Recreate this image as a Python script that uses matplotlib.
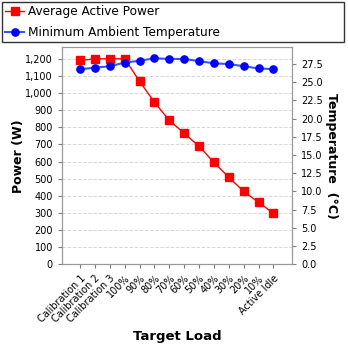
import matplotlib
matplotlib.use("Agg")
import matplotlib.pyplot as plt
from matplotlib.ticker import FuncFormatter, MultipleLocator

categories = ["Calibration 1", "Calibration 2", "Calibration 3", "100%", "90%", "80%",
              "70%", "60%", "50%", "40%", "30%", "20%", "10%", "Active Idle"]
power = [1190, 1200, 1200, 1200, 1068, 946, 840, 765, 689, 595, 508, 426, 362, 298]
temperature = [26.8, 27.0, 27.2, 27.7, 27.95, 28.3, 28.2, 28.2, 27.9, 27.6, 27.5, 27.2, 26.9, 26.8]

plt.rcParams['font.family'] = ['DejaVu Sans']
fig = plt.figure(figsize=(3.48, 3.48), dpi=100)
ax = fig.add_axes([62/348, 1-264.3/348, 230/348, (264.3-47.3)/348])
ax2 = ax.twinx()

x = list(range(len(categories)))
l1, = ax.plot(x, power, color='#ff0000', lw=1, marker='s', ms=5.2, mec='#ff0000', mfc='#ff0000',
              label='Average Active Power')
l2, = ax2.plot(x, temperature, color='#3355ff', lw=1.5, marker='o', ms=5.2,
               mec='#0000ff', mfc='#0000ff', label='Minimum Ambient Temperature')

ax.set_xlim(-1.22, 14.25)
ax.set_ylim(0, 1267)
ax2.set_ylim(0, 29.8)
ax.yaxis.set_major_locator(MultipleLocator(100))
ax.yaxis.set_major_formatter(FuncFormatter(lambda v, p: f"{int(v):,}"))
ax2.yaxis.set_major_locator(MultipleLocator(2.5))
ax2.yaxis.set_major_formatter(FuncFormatter(lambda v, p: f"{v:.1f}"))

ax.set_xticks(x)
ax.set_xticklabels(categories, rotation=45, ha='right', rotation_mode='anchor', fontsize=7)
ax.tick_params(axis='both', labelsize=7, color='#808080', length=3)
ax2.tick_params(axis='y', labelsize=7, color='#808080', length=3)
ax.grid(axis='y', color='#d8d8d8', linestyle='--', lw=0.7)
ax.set_axisbelow(True)
for a in (ax, ax2):
    for s in a.spines.values():
        s.set_color('#999999')
ax.spines['left'].set_color('#808080'); ax.spines['bottom'].set_color('#808080')

ax.set_ylabel('Power (W)', fontsize=9, fontweight='bold', labelpad=0)
ax2.set_ylabel('Temperature  (°C)', fontsize=9, fontweight='bold', rotation=270, labelpad=11)
ax.set_xlabel('Target Load', fontsize=9.5, fontweight='bold', labelpad=4)

leg = fig.legend(handles=[l1, l2], loc='upper left', bbox_to_anchor=(2/348, 1-42/348, 342/348, 40/348),
                 mode='expand', fontsize=8.7, frameon=True, fancybox=False, borderpad=0.25,
                 handlelength=1.6, handletextpad=0.3, labelspacing=0.65, borderaxespad=0)
leg.get_frame().set_edgecolor('black')
leg.get_frame().set_linewidth(1)

fig.savefig('out.png', dpi=100)
